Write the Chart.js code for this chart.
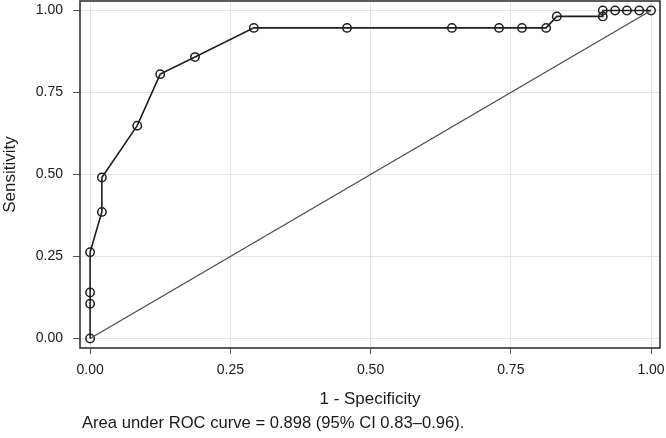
<!DOCTYPE html>
<html>
<head>
<meta charset="utf-8">
<script src="https://cdn.jsdelivr.net/npm/chart.js@4/dist/chart.umd.min.js"></script>
<style>
  html, body { margin: 0; padding: 0; background: #fff; }
  #wrap { width: 666px; height: 438px; }
</style>
</head>
<body>
<div id="wrap"><canvas id="roc" width="666" height="438"></canvas></div>
<script>
// ROC points (1 - specificity, sensitivity)
const fpr = [0, 0, 0, 0, 0.021, 0.021, 0.084, 0.125, 0.187, 0.292, 0.458, 0.645, 0.729, 0.770, 0.813, 0.832, 0.914, 0.914, 0.936, 0.957, 0.979, 1];
const tpr = [0, 0.106, 0.140, 0.263, 0.386, 0.491, 0.649, 0.806, 0.858, 0.947, 0.947, 0.947, 0.947, 0.947, 0.947, 0.982, 0.982, 1, 1, 1, 1, 1];

// reference diagonal
const diagX = [0, 1];
const diagY = [0, 1];

const tickValues = [0, 0.25, 0.5, 0.75, 1];
const xTitle = '1 - Specificity';
const yTitle = 'Sensitivity';
const footnote = 'Area under ROC curve = 0.898 (95% CI 0.83\u20130.96).';

const FONT = '"Liberation Sans", Arial, Helvetica, sans-serif';

// box round the plot area + footnote under it
const framePlugin = {
    id: 'frame',
    afterDraw(chart) {
        const { ctx, chartArea: a } = chart;
        ctx.save();
        ctx.strokeStyle = '#333';
        ctx.lineWidth = 1.6;
        ctx.strokeRect(a.left, a.top, a.right - a.left, a.bottom - a.top);

        ctx.fillStyle = '#1a1a1a';
        ctx.font = '16.6px ' + FONT;
        ctx.textAlign = 'left';
        ctx.textBaseline = 'alphabetic';
        ctx.fillText(footnote, a.left + 2, 428);
        ctx.restore();
    }
};

const toXY = (xs, ys) => xs.map((x, i) => ({ x: x, y: ys[i] }));

// no extra room for edge labels, frame is placed by hand
const noPad = s => { s.paddingTop = 0; s.paddingBottom = 0; s.paddingLeft = 0; s.paddingRight = 0; };

new Chart(document.getElementById('roc'), {
    type: 'scatter',
    data: {
        datasets: [
            {
                label: 'diag',
                data: toXY(diagX, diagY),
                showLine: true,
                borderColor: '#505050',
                borderWidth: 1.4,
                pointRadius: 0,
                fill: false
            },
            {
                label: 'ROC',
                data: toXY(fpr, tpr),
                showLine: true,
                borderColor: '#1e1e1e',
                borderWidth: 1.6,
                pointRadius: 4.2,
                pointBorderWidth: 1.5,
                pointBorderColor: '#1e1e1e',
                pointBackgroundColor: 'rgba(0,0,0,0)',
                fill: false
            }
        ]
    },
    options: {
        responsive: false,
        animation: false,
        layout: { autoPadding: false, padding: { top: 1, right: 6, bottom: 28, left: 0 } },
        plugins: {
            legend: { display: false },
            tooltip: { enabled: false }
        },
        scales: {
            x: {
                type: 'linear',
                min: -0.018,
                max: 1.016,
                afterBuildTicks: s => { s.ticks = tickValues.map(v => ({ value: v })); },
                afterFit: s => { s.height = 62; noPad(s); },
                border: { display: false },
                grid: { color: '#e4e4e4', lineWidth: 1, tickLength: 6, tickColor: '#555' },
                ticks: {
                    padding: 8,
                    color: '#1a1a1a',
                    font: { family: FONT, size: 14 },
                    callback: v => Number(v).toFixed(2)
                },
                title: {
                    display: true,
                    text: xTitle,
                    color: '#1a1a1a',
                    font: { family: FONT, size: 17 },
                    padding: 0
                }
            },
            y: {
                type: 'linear',
                min: -0.029,
                max: 1.029,
                afterBuildTicks: s => { s.ticks = tickValues.map(v => ({ value: v })); },
                afterFit: s => { s.width = 80; noPad(s); },
                border: { display: false },
                grid: { color: '#e4e4e4', lineWidth: 1, tickLength: 7, tickColor: '#555' },
                ticks: {
                    padding: 10,
                    color: '#1a1a1a',
                    font: { family: FONT, size: 14 },
                    callback: v => Number(v).toFixed(2)
                },
                title: {
                    display: true,
                    text: yTitle,
                    color: '#1a1a1a',
                    font: { family: FONT, size: 17 },
                    padding: 0
                }
            }
        }
    },
    plugins: [framePlugin]
});
</script>
</body>
</html>
